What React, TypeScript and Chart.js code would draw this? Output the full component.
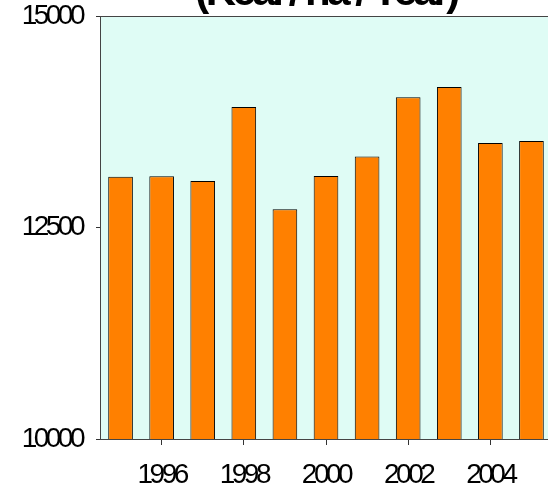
import React, { useEffect, useRef } from "react";
import { Chart, registerables } from "chart.js";

Chart.register(...registerables);

const years = ["1995", "1996", "1997", "1998", "1999", "2000", "2001", "2002", "2003", "2004", "2005"];
const values = [13100, 13105, 13050, 13925, 12715, 13110, 13340, 14040, 14160, 13500, 13522];
const yTicks = [10000, 12500, 15000];
const titleText = "(Kcal / ha / Year)";

const CANVAS_W = 552;
const CANVAS_H = 527;
const OFFSET_TOP = 28;

const spacingPlugin = {
  id: "spacing",
  beforeUpdate(chart: any) {
    chart.ctx.letterSpacing = "-3.5px";
  },
  beforeLayout(chart: any) {
    chart.ctx.letterSpacing = "-3.5px";
  },
  beforeDraw(chart: any) {
    const { ctx, chartArea } = chart;
    ctx.letterSpacing = "-3.5px";
    ctx.save();
    ctx.fillStyle = "#DFFCF5";
    ctx.fillRect(chartArea.left, chartArea.top, chartArea.right - chartArea.left, chartArea.bottom - chartArea.top);
    ctx.restore();
  },
};

export default function App() {
  const ref = useRef<HTMLCanvasElement>(null);
  useEffect(() => {
    const canvas = ref.current!;
    const chart = new Chart(canvas, {
      type: "bar",
      data: {
        labels: years,
        datasets: [
          {
            data: values,
            backgroundColor: "#FF8000",
            borderColor: "#000000",
            borderWidth: 1,
            borderSkipped: false,
            barPercentage: 0.6,
            categoryPercentage: 1,
          },
        ],
      },
      options: {
        responsive: false,
        animation: false,
        devicePixelRatio: 1,
        layout: { padding: 0 },
        plugins: {
          legend: { display: false },
          tooltip: { enabled: false },
          title: {
            display: true,
            fullSize: false,
            text: titleText,
            color: "#000",
            font: { family: "'Liberation Sans', Arial, sans-serif", size: 42, weight: "bold", lineHeight: 1 },
            padding: { top: 0, bottom: 2 },
          },
        },
        scales: {
          x: {
            type: "category",
            offset: true,
            grid: {
              offset: false,
              drawOnChartArea: false,
              drawTicks: true,
              tickLength: 6,
              tickColor: (c: any) => (c.index % 2 === 1 && c.index < years.length - 1 ? "#333" : "rgba(0,0,0,0)"),
            },
            border: { display: true, color: "#444", width: 1 },
            ticks: {
              autoSkip: false,
              maxRotation: 0,
              padding: 13,
              color: "#000",
              font: { family: "'Liberation Sans', Arial, sans-serif", size: 28 },
              callback: (_v: any, i: number) => (i % 2 === 1 && i < years.length - 1 ? years[i] : ""),
            },
            afterFit: (s: any) => {
              s.height = 60;
            },
          },
          y: {
            min: yTicks[0],
            max: yTicks[yTicks.length - 1],
            afterBuildTicks: (s: any) => {
              s.ticks = yTicks.map((v) => ({ value: v }));
            },
            grid: {
              drawOnChartArea: true,
              drawTicks: true,
              tickLength: 4,
              color: (c: any) => (c.tick && c.tick.value === yTicks[yTicks.length - 1] ? "#444" : "rgba(0,0,0,0)"),
              tickColor: "#333",
            },
            border: { display: true, color: "#444", width: 1 },
            ticks: {
              padding: 14,
              color: "#000",
              font: { family: "'Liberation Sans', Arial, sans-serif", size: 28 },
              callback: (v: any) => String(v),
            },
            afterFit: (s: any) => {
              s.width = 100;
            },
          },
        },
      },
      plugins: [spacingPlugin],
    } as any);
    return () => chart.destroy();
  }, []);

  return (
    <div style={{ position: "fixed", left: 0, top: 0, width: 548, height: 491, overflow: "hidden", background: "#fff" }}>
      <div style={{ position: "absolute", left: 0, top: -OFFSET_TOP, width: CANVAS_W, height: CANVAS_H }}>
        <canvas ref={ref} width={CANVAS_W} height={CANVAS_H} style={{ width: CANVAS_W, height: CANVAS_H, display: "block" }} />
      </div>
    </div>
  );
}
